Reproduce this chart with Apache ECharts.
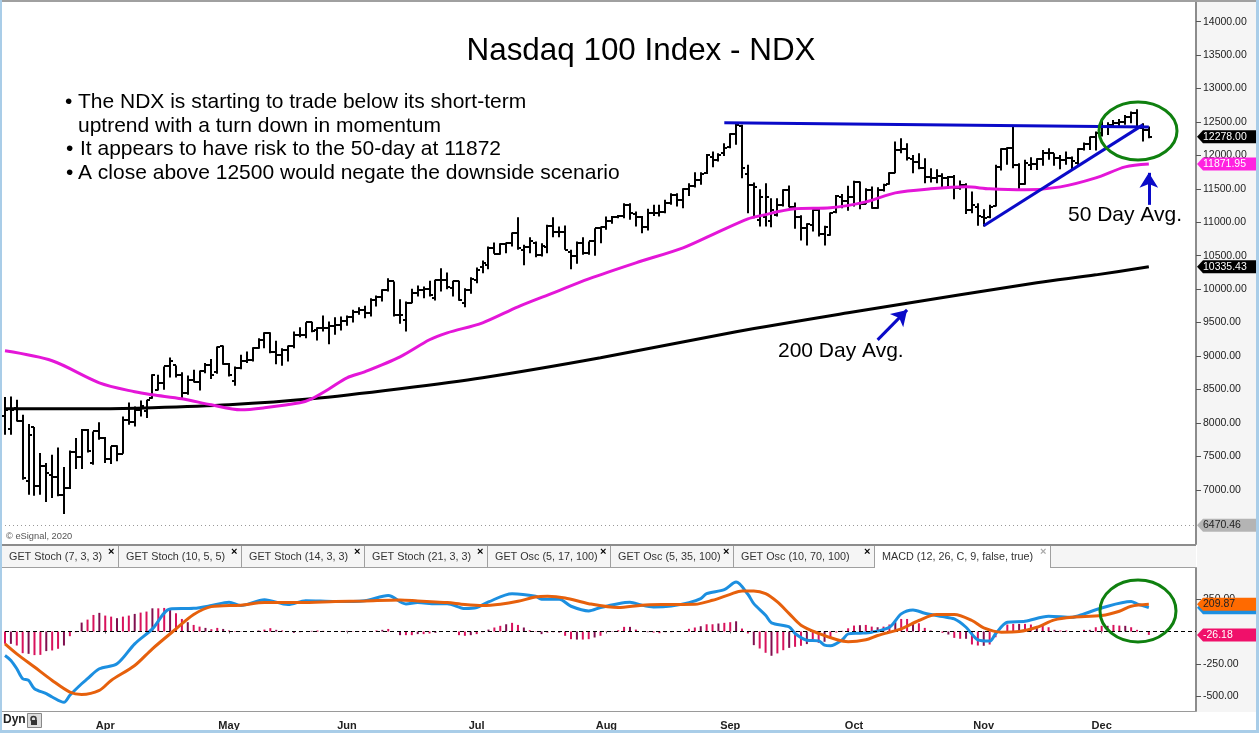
<!DOCTYPE html>
<html>
<head>
<meta charset="utf-8">
<title>Nasdaq 100 Index - NDX</title>
<script src="https://cdn.jsdelivr.net/npm/echarts@6/dist/echarts.min.js"></script>
<style>
html,body{margin:0;padding:0;background:#fff;overflow:hidden}
#echartsDiv{width:1259px;height:733px}
</style>
</head>
<body>
<div id="echartsDiv"></div>
<script>
//bars, first bar is 17 sessions before Apr 1
var opens=[8097,7908,8222,8022,7126,7938,7051,7360,7226,7191,
6927,7027,7559,7490,7888,7400,7873,7774,7465,7649,
7539,8047,8012,8197,8172,8370,8495,8604,8844,8859,
8719,8445,8645,8605,8769,8869,8759,9143,8879,8630,
8819,8929,8944,9118,9243,9342,9053,9018,9093,9143,
9317,9317,9502,9382,9417,9417,9452,9467,9517,9591,
9665,9681,9641,9840,9890,9990,10115,9616,9541,9800,
9940,9990,10000,9865,10140,10140,10015,10115,9790,9990,
10140,10339,10364,10613,10528,10678,10688,10837,10588,10638,
10688,10513,10638,10947,10862,10862,10563,10489,10688,10538,
10713,10912,10937,11012,11077,11096,11261,11126,11086,10937,
11136,11136,11161,11286,11410,11336,11495,11545,11635,11734,
11983,11934,12033,12123,12322,12442,11724,11560,11027,11086,
11012,11106,11261,11485,11226,11077,10912,10962,11186,10827,
10812,11161,11385,11326,11375,11610,11276,11485,11211,11485,
11575,11744,12083,12093,11944,11909,11809,11684,11660,11694,
11660,11684,11510,11560,11186,11236,11086,11076,11246,11834,
12093,12108,11859,11575,11859,11874,11948,12033,12033,11958,
11934,11958,11884,12093,12173,12272,12332,12432,12457,12482,
12507,12581,12631,12407,12382];
var highs=[8386,8396,8346,8122,7983,7938,7549,7400,7525,7634,
7340,7589,7774,7908,7908,7873,8008,7788,7649,7664,
8097,8306,8247,8336,8346,8729,8719,8844,8979,8859,
8759,8709,8794,8784,8894,8954,9143,9158,8894,8844,
9018,9068,9133,9267,9357,9357,9228,9118,9158,9367,
9432,9507,9512,9432,9606,9517,9581,9591,9606,9691,
9731,9751,9865,9905,9999,10164,10115,9850,9815,10005,
10055,10040,10125,10140,10314,10249,10125,10125,10015,10179,
10324,10429,10638,10698,10688,10698,10847,11077,10663,10777,
10713,10688,10962,11077,10937,10952,10588,10713,10777,10713,
10912,10937,11086,11096,11111,11286,11286,11161,11096,11201,
11261,11261,11336,11435,11435,11510,11585,11749,11749,12023,
12058,12033,12183,12332,12482,12457,11859,11595,11495,11585,
11360,11360,11495,11550,11296,11106,10987,11196,11211,10947,
11146,11410,11425,11545,11620,11610,11510,11535,11525,11575,
11749,12208,12257,12183,12008,12033,11958,11809,11794,11734,
11694,11709,11625,11585,11460,11286,11196,11261,11859,12108,
12123,12432,11884,11934,11973,11958,12083,12108,12033,12008,
12058,11983,12108,12193,12282,12357,12531,12497,12531,12546,
12606,12656,12691,12482,12432];
var lows=[7823,7823,8022,7151,6927,6912,6927,6817,6877,6902,
6638,7012,7310,7310,7559,7375,7749,7400,7385,7425,
7539,7973,7948,8097,8072,8361,8485,8495,8680,8680,
8345,8420,8605,8485,8744,8655,8734,8869,8695,8555,
8804,8894,8919,9108,9118,9043,8879,8854,8919,9118,
9282,9267,9357,9233,9367,9178,9317,9382,9452,9502,
9616,9566,9591,9741,9815,9965,9591,9482,9367,9791,
9890,9865,9890,9830,9965,9999,9890,9825,9731,9930,
10090,10239,10299,10528,10513,10538,10638,10588,10359,10538,
10479,10489,10538,10777,10777,10588,10299,10379,10513,10513,
10498,10688,10887,10977,11062,11062,11037,10937,10837,10877,
11096,11086,11136,11261,11236,11211,11395,11520,11560,11724,
11824,11909,11993,12108,12158,11659,11136,11061,10937,10937,
10927,11086,11236,11226,10902,10728,10653,10862,10787,10653,
10797,11136,11211,11171,11236,11196,11271,11201,11201,11460,
11560,11734,12033,11924,11734,11794,11585,11595,11585,11525,
11525,11345,11485,11126,11136,10947,10937,11061,11236,11774,
11859,11809,11495,11560,11784,11784,11844,11934,11844,11794,
11859,11784,11859,12073,12083,12073,12282,12307,12442,12442,
12457,12482,12392,12208,12257];
var closes=[8197,8197,8022,7176,7823,7051,7360,7251,7191,6927,
7027,7559,7490,7888,7574,7873,7774,7465,7649,7539,
8047,8012,8197,8257,8336,8719,8604,8844,8919,8719,
8445,8645,8605,8769,8869,8719,9128,8884,8719,8819,
8929,8944,9118,9243,9342,9053,9018,9093,9143,9317,
9317,9502,9367,9417,9417,9452,9467,9517,9591,9665,
9681,9641,9840,9890,9990,10115,9616,9616,9791,9940,
9990,10000,9915,10140,10140,10030,10115,9840,9990,10150,
10289,10389,10613,10528,10678,10688,10837,10613,10638,10713,
10513,10648,10947,10862,10862,10588,10489,10688,10538,10713,
10912,10937,11012,11077,11096,11261,11136,11086,10937,11136,
11136,11161,11286,11410,11336,11495,11545,11635,11724,12008,
11934,12008,12108,12322,12457,11809,11560,11535,11375,11375,
11186,11261,11485,11236,11077,10912,10977,11186,10827,10927,
11146,11395,11326,11375,11610,11276,11485,11211,11485,11560,
11734,12083,12093,11958,11909,11809,11684,11660,11694,11660,
11684,11510,11560,11186,11261,11096,11061,11236,11834,12093,
12108,11859,11575,11894,11874,11948,12033,12033,11958,11934,
11958,11924,12093,12173,12272,12332,12432,12457,12482,12507,
12581,12641,12422,12382,12278];

//moving averages: session number and value where they were read
var ma50Days=[0,8,16,22,25,30,35,40,44,50,52,55,58,61,67,72,75,81,87,93,99,107,115,121,126,128,134,140,146,151,157,163,167,173,179,185,190,194];
var ma50Values=[9078,8929,8600,8465,8420,8360,8270,8196,8226,8300,8360,8510,8674,8764,8988,9243,9347,9497,9736,9945,10154,10394,10618,10857,11051,11096,11201,11216,11306,11440,11500,11530,11500,11485,11530,11664,11829,11872];
var ma200Days=[0,16,25,38,52,67,81,101,124,143,162,175,185,194];
var ma200Values=[8211,8211,8226,8271,8360,8510,8674,8973,9362,9646,9915,10095,10214,10335];

//MACD pane
var macdDays=[0,1,2,3,4,5,7,8,10,11,13,14,16,19,22,25,28,32,35,38,40,44,48,51,56,61,65,68,70,73,75,78,80,82,86,90,91,94,96,99,101,104,106,108,110,113,116,118,119,122,124,126,127,129,130,133,134,136,138,139,140,142,143,145,147,150,152,154,156,159,161,163,165,167,168,170,173,177,181,183,186,191,192,194];
var macdValues=[-185,-223,-287,-364,-377,-441,-479,-505,-546,-492,-403,-364,-287,-249,-95,20,174,179,200,226,200,246,208,238,231,238,277,213,223,215,215,177,185,228,292,272,249,249,195,159,185,215,226,203,190,197,223,254,292,323,382,287,215,126,67,36,-15,-67,-72,-105,-110,-64,-18,-13,-5,33,136,167,141,115,97,33,-64,-74,-18,72,79,118,110,136,182,231,213,184];
var signalDays=[0,2,5,8,11,13,16,18,22,25,29,32,35,40,44,50,56,61,67,70,73,75,78,81,84,87,90,92,95,99,104,108,112,117,120,123,125,127,129,131,133,135,138,141,143,146,148,152,155,158,161,164,166,169,172,175,178,181,186,189,191,194];
var signalValues=[-95,-172,-274,-377,-467,-485,-454,-377,-262,-133,20,131,192,203,223,223,231,236,244,236,228,223,208,200,210,233,267,272,259,215,185,203,208,210,241,287,313,313,292,228,138,49,-15,-62,-79,-64,-31,21,85,131,131,85,28,-5,0,33,90,110,123,156,195,210];
var macdHist=[-95,-95,-108,-167,-172,-182,-180,-151,-146,-133,
-108,-36,-5,69,92,128,144,123,115,103,
115,123,136,146,154,179,179,182,167,141,
97,72,51,38,28,18,28,20,8,3,
2,0,2,8,15,26,13,8,0,-10,
-5,0,5,8,5,3,2,3,5,2,
3,2,3,8,13,20,0,-28,-28,-28,
-20,-20,-15,-10,-3,0,-2,-28,-33,-28,
-20,-5,15,31,44,56,67,51,31,10,
-3,-20,-8,-5,-8,-33,-59,-62,-62,-59,
-46,-33,-3,3,10,36,36,15,0,-5,
-8,-13,-5,-5,-3,0,21,31,41,56,
56,62,67,72,79,23,-15,-105,-131,-164,
-187,-169,-144,-126,-118,-110,-97,-59,-87,-79,
-54,-8,5,25,46,49,51,38,33,38,
54,72,97,97,64,64,28,8,0,-10,
-23,-49,-56,-56,-100,-108,-110,-100,-44,-5,
54,59,59,59,54,28,44,33,13,8,
8,3,3,13,13,33,44,44,51,46,
44,33,13,0,-26];

//axes
var sessionCount=203;
var monthNames=['Apr','May','Jun','Jul','Aug','Sep','Oct','Nov','Dec'];
var monthStarts=[17,38,58,80,102,123,144,166,186];
var priceTicks=[7000,7500,8000,8500,9000,9500,10000,10500,11000,11500,12000,12500,13000,13500,14000];
var macdTicks=[250,-250,-500];

//trend lines and arrows drawn on the chart
var topLineDays=[122,194];
var topLineValues=[12487,12427];
var riseLineDays=[166,193];
var riseLineValues=[10947,12457];
var arrow200=[[147.8,9242],[153.2,9690]];
var arrow50=[[194,11261],[194,11740]];

//value flags on the right side
var priceTags=[10335.43,6470.46,11871.95,12278.00];
var priceTagFill=['#000','#b4b4b4','#ff22e0','#000'];
var priceTagText=['#fff','#222','#fff','#fff'];
var macdTags=[183.69,209.87,-26.18];
var macdTagFill=['#1c8fe0','#ff6a00','#f0106a'];
var macdTagText=['','#222','#fff'];

var tabNames=['GET Stoch (7, 3, 3)','GET Stoch (10, 5, 5)','GET Stoch (14, 3, 3)','GET Stoch (21, 3, 3)','GET Osc (5, 17, 100)','GET Osc (5, 35, 100)','GET Osc (10, 70, 100)'];
var tabTextX=[9,126,249,372,495,618,741];
var tabCloseX=[108,231,354,477,600,723,864];
var tabEdgeX=[118,241,364,487,610,733];
var noteLines=['The NDX is starting to trade below its short-term','uptrend with a turn down in momentum','It appears to have risk to the 50-day at 11872','A close above 12500 would negate the downside scenario'];

var FONT='"Liberation Sans",Arial,sans-serif';
var myChart=echarts.init(document.getElementById('echartsDiv'));

var days=[];
for(var i=0;i<sessionCount;i++){days.push(String(i));}

function zip(a,b){
	var out=[];
	for(var i=0;i<a.length;i++){out.push([a[i],b[i]]);}
	return out;
}

function ohlcData(){
	var out=[];
	for(var i=0;i<opens.length;i++){out.push([i,opens[i],highs[i],lows[i],closes[i]]);}
	return out;
}

function drawBar(params,api){
	var x=Math.round(api.coord([api.value(0),api.value(1)])[0]);
	var o=Math.round(api.coord([api.value(0),api.value(1)])[1]);
	var h=api.coord([api.value(0),api.value(2)])[1];
	var l=api.coord([api.value(0),api.value(3)])[1];
	var c=Math.round(api.coord([api.value(0),api.value(4)])[1]);
	var st={stroke:'#000',lineWidth:2,fill:null};
	return {type:'group',children:[
		{type:'line',shape:{x1:x,y1:h,x2:x,y2:l},style:st},
		{type:'line',shape:{x1:x-3,y1:o,x2:x,y2:o},style:st},
		{type:'line',shape:{x1:x,y1:c,x2:x+3,y2:c},style:st}
	]};
}

function tagDrawer(fills,texts){
	return function(params,api){
		var idx=params.dataIndex;
		var val=api.value(1);
		var y=api.coord([0,val])[1];
		var x0=1197;
		var children=[{type:'polygon',shape:{points:[[x0,y],[x0+6,y-6.5],[1256,y-6.5],[1256,y+6.5],[x0+6,y+6.5]]},style:{fill:fills[idx]}}];
		if(texts[idx]){
			children.push({type:'text',x:x0+6,y:y,style:{text:val.toFixed(2),fill:texts[idx],font:'10.5px '+FONT,textVerticalAlign:'middle'}});
		}
		return {type:'group',children:children};
	};
}

function tagData(list){
	return list.map(function(v){return [0,v];});
}

function trend(data,extra){
	var s={type:'line',data:data,showSymbol:false,symbol:'none',lineStyle:{color:'#0a0ac8',width:3},z:6,animation:false,silent:true};
	if(extra){s.markLine=extra;}
	return s;
}

function arrowLine(a){
	return {silent:true,animation:false,symbol:['none','arrow'],symbolSize:[14,15],label:{show:false},
		lineStyle:{color:'#0a0ac8',width:3,type:'solid'},data:[[{coord:a[0]},{coord:a[1]}]]};
}

//panel furniture and the notes
function chrome(){
	var g=[];
	function rect(x,y,w,h,fill,z){g.push({type:'rect',shape:{x:x,y:y,width:w,height:h},style:{fill:fill},z:z===undefined?-1:z,silent:true});}
	function txt(x,y,s,font,fill,z){g.push({type:'text',x:x,y:y,style:{text:s,font:font,fill:fill,textVerticalAlign:'middle'},z:z===undefined?20:z,silent:true});}
	rect(1197,0,59,712,'#f5f5f5');
	rect(2,546,1194,21,'#f5f5f5');
	rect(0,0,1259,2,'#a0a0a0',30);
	rect(0,0,2,733,'#a9cde8',30);
	rect(1256,0,3,733,'#a9cde8',30);
	rect(0,730,1259,3,'#a9cde8',30);
	rect(2,544,1194,2,'#8c8c8c',10);
	rect(2,567,873,1,'#a0a0a0',10);
	rect(1050,567,146,1,'#a0a0a0',10);
	rect(2,711,1194,1,'#9a9a9a',10);
	rect(875,546,175,21,'#fff',1);
	rect(874,546,1,21,'#a0a0a0',10);
	rect(1050,546,1,21,'#a0a0a0',10);
	for(var i=0;i<tabNames.length;i++){
		txt(tabTextX[i],557,tabNames[i],'10.8px '+FONT,'#333');
		txt(tabCloseX[i],552,'×','bold 11px '+FONT,'#000');
		if(i<6){rect(tabEdgeX[i],546,1,21,'#a0a0a0',10);}
	}
	txt(882,557,'MACD (12, 26, C, 9, false, true)','10.8px '+FONT,'#333');
	txt(1040,552,'×','bold 11px '+FONT,'#aaa');

	txt(6,536,'© eSignal, 2020','9.3px '+FONT,'#555');
	txt(3,720,'Dyn','bold 12px '+FONT,'#222');
	g.push({type:'rect',shape:{x:27.5,y:713.5,width:14,height:14},style:{fill:'#ddd',stroke:'#888'},z:20,silent:true});
	g.push({type:'circle',shape:{cx:33.5,cy:719,r:2.5},style:{fill:null,stroke:'#333',lineWidth:1.5},z:21,silent:true});
	rect(31,720,6,5,'#333',21);

	g.push({type:'text',x:641,y:51,style:{text:'Nasdaq 100 Index - NDX',font:'31.4px '+FONT,fill:'#000',textAlign:'center',textVerticalAlign:'middle'},z:20,silent:true});
	txt(65,102,'•','21px '+FONT,'#000');
	txt(78,102,noteLines[0],'21px '+FONT,'#000');
	txt(78,126,noteLines[1],'21px '+FONT,'#000');
	txt(66,149,'•','21px '+FONT,'#000');
	txt(80,149,noteLines[2],'21px '+FONT,'#000');
	txt(66,173,'•','21px '+FONT,'#000');
	txt(78,173,noteLines[3],'21px '+FONT,'#000');
	txt(1068,215,'50 Day Avg.','21px '+FONT,'#000');
	txt(778,351,'200 Day Avg.','21px '+FONT,'#000');

	g.push({type:'ellipse',shape:{cx:1138,cy:131,rx:39,ry:29},style:{fill:null,stroke:'#0f800f',lineWidth:3},z:15,silent:true});
	g.push({type:'ellipse',shape:{cx:1138,cy:611,rx:38,ry:31},style:{fill:null,stroke:'#0f800f',lineWidth:3},z:15,silent:true});
	return g;
}

var option={
	animation:false,
	backgroundColor:'#fff',
	grid:[
		{left:5,width:1191,top:0,height:544},
		{left:5,width:1191,top:568,height:143}
	],
	xAxis:[
		{type:'category',gridIndex:0,data:days,boundaryGap:false,show:false},
		{type:'category',gridIndex:1,data:days,boundaryGap:false,
			axisLine:{show:false},
			axisTick:{length:2,lineStyle:{color:'#666'},interval:function(idx){return monthStarts.indexOf(idx)>=0;}},
			axisLabel:{margin:9,color:'#222',fontFamily:FONT,fontSize:11,fontWeight:'bold',
				interval:function(idx){return monthStarts.indexOf(idx)>=0;},
				formatter:function(v,idx){return monthNames[monthStarts.indexOf(idx)]||'';}}}
	],
	yAxis:[
		{type:'value',gridIndex:0,position:'right',min:6189,max:14324.5,splitLine:{show:false},
			axisLine:{show:true,lineStyle:{color:'#8c8c8c',width:2}},
			axisTick:{show:true,length:5,customValues:priceTicks,lineStyle:{color:'#555'}},
			axisLabel:{margin:7,color:'#222',fontFamily:FONT,fontSize:10.5,customValues:priceTicks,formatter:function(v){return v.toFixed(2);}}},
		{type:'value',gridIndex:1,position:'right',min:-613,max:490,splitLine:{show:false},
			axisLine:{show:true,lineStyle:{color:'#8c8c8c',width:2}},
			axisTick:{show:true,length:5,customValues:macdTicks,lineStyle:{color:'#555'}},
			axisLabel:{margin:7,color:'#222',fontFamily:FONT,fontSize:10.5,customValues:macdTicks,formatter:function(v){return v.toFixed(2);}}}
	],
	graphic:{elements:chrome()},
	series:[
		{name:'200 Day',type:'line',xAxisIndex:0,yAxisIndex:0,data:zip(ma200Days,ma200Values),showSymbol:false,symbol:'none',smooth:0.3,lineStyle:{color:'#000',width:3},z:3,
			markLine:{silent:true,animation:false,symbol:'none',label:{show:false},lineStyle:{color:'#999',width:1,type:[1,3]},data:[{yAxis:6470.46}]}},
		{name:'NDX',type:'custom',xAxisIndex:0,yAxisIndex:0,data:ohlcData(),encode:{x:0,y:[1,2,3,4]},renderItem:drawBar,clip:false,z:2},
		{name:'50 Day',type:'line',xAxisIndex:0,yAxisIndex:0,data:zip(ma50Days,ma50Values),showSymbol:false,symbol:'none',smooth:0.3,lineStyle:{color:'#e416d8',width:3},z:4},
		trend(zip(topLineDays,topLineValues),arrowLine(arrow200)),
		trend(zip(riseLineDays,riseLineValues),arrowLine(arrow50)),
		{name:'Price flags',type:'custom',xAxisIndex:0,yAxisIndex:0,data:tagData(priceTags),encode:{x:0,y:1},renderItem:tagDrawer(priceTagFill,priceTagText),clip:false,z:12},

		{name:'Histogram',type:'bar',xAxisIndex:1,yAxisIndex:1,data:macdHist,barWidth:2,
			itemStyle:{color:function(p){return p.dataIndex%3==1?'#80104f':'#d8125c';}},z:2,
			markLine:{silent:true,animation:false,symbol:'none',label:{show:false},lineStyle:{color:'#000',width:1,type:[4,3]},data:[{yAxis:0}]}},
		{name:'MACD',type:'line',xAxisIndex:1,yAxisIndex:1,data:zip(macdDays,macdValues),showSymbol:false,symbol:'none',smooth:0.3,lineStyle:{color:'#1c8fe0',width:3},z:4},
		{name:'Signal',type:'line',xAxisIndex:1,yAxisIndex:1,data:zip(signalDays,signalValues),showSymbol:false,symbol:'none',smooth:0.3,lineStyle:{color:'#e6600c',width:3},z:5},
		{name:'MACD flags',type:'custom',xAxisIndex:1,yAxisIndex:1,data:tagData(macdTags),encode:{x:0,y:1},renderItem:tagDrawer(macdTagFill,macdTagText),clip:false,z:12}
	]
};
myChart.setOption(option);
</script>
</body>
</html>
